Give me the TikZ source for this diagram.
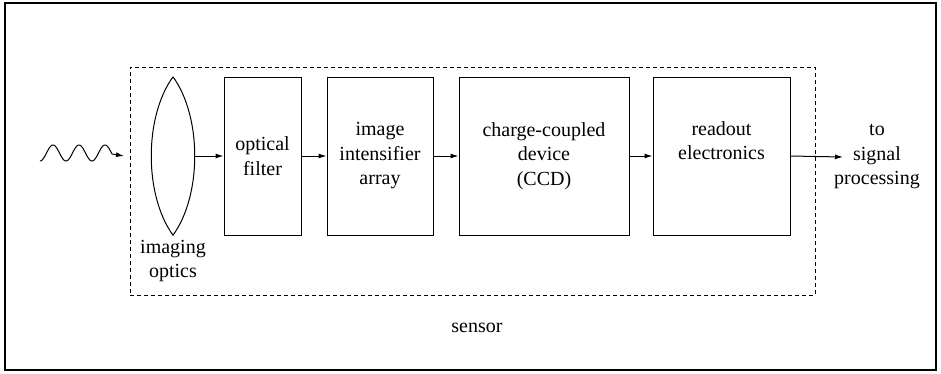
\documentclass[tikz,border=0pt]{standalone}
\usepackage{fontspec}
\setmainfont{Liberation Serif}
\newfontfamily\diagfont{Liberation Serif}
\usetikzlibrary{arrows.meta}
\begin{document}
\begin{tikzpicture}[x=1pt,y=-1pt,
  every node/.style={font=\diagfont\fontsize{20}{24.5}\selectfont},
  blk/.style={draw,line width=1pt,minimum height=158pt,align=center,inner sep=0pt},
  lbl/.style={align=center,inner sep=0pt},
  conn/.style={line width=1pt,-{Latex[length=8pt,width=5pt]}},
  sensorframe/.style={draw,line width=1pt,dash pattern=on 4pt off 3pt,inner sep=0pt}]
\useasboundingbox (0,0) rectangle (941,373);
\draw[line width=1.6pt] (5,3) rectangle (936,370);
\node[sensorframe,minimum width=685pt,minimum height=228pt] (sensorbox) at (472.5,181) {};
\node[lbl] (sensorlbl) at (477,328) {sensor};
% lens
\node[minimum width=43pt,minimum height=158pt,inner sep=0pt] (lens) at (173,156) {};
\draw[line width=1pt] (lens.north)
  .. controls ([shift={(-29pt,-40pt)}]lens.north) and ([shift={(-29pt,40pt)}]lens.south) .. (lens.south)
  .. controls ([shift={(29pt,40pt)}]lens.south) and ([shift={(29pt,-40pt)}]lens.north) .. (lens.north);
\node[lbl] (lenslbl) at (173,261) {imaging\\optics};
% blocks
\node[blk,minimum width=77pt] (filter) at (262.5,156) {optical\\filter};
\node[blk,minimum width=106pt] (intens) at (380,156) {image\\intensifier\\array};
\node[blk,minimum width=170pt] (ccd) at (544,156) {charge-coupled\\device\\(CCD)};
\node[blk,minimum width=137pt] (readout) at (721.5,156) {readout\\electronics\\[6pt]};
\node[lbl] (outlbl) at (877,157) {to\\signal\\processing};
\coordinate (waveend) at (124,156);
\coordinate (out) at (843,157);
% connectors
\draw[conn] plot[domain=0:72,samples=90] ({40+\x},{153+8*cos(\x*13.846)}) -- (waveend);
\draw[conn] (lens.east) -- (filter.west);
\draw[conn] (filter.east) -- (intens.west);
\draw[conn] (intens.east) -- (ccd.west);
\draw[conn] (ccd.east) -- (readout.west);
\draw[conn] (readout.east) -- (out);
\end{tikzpicture}
\end{document}
